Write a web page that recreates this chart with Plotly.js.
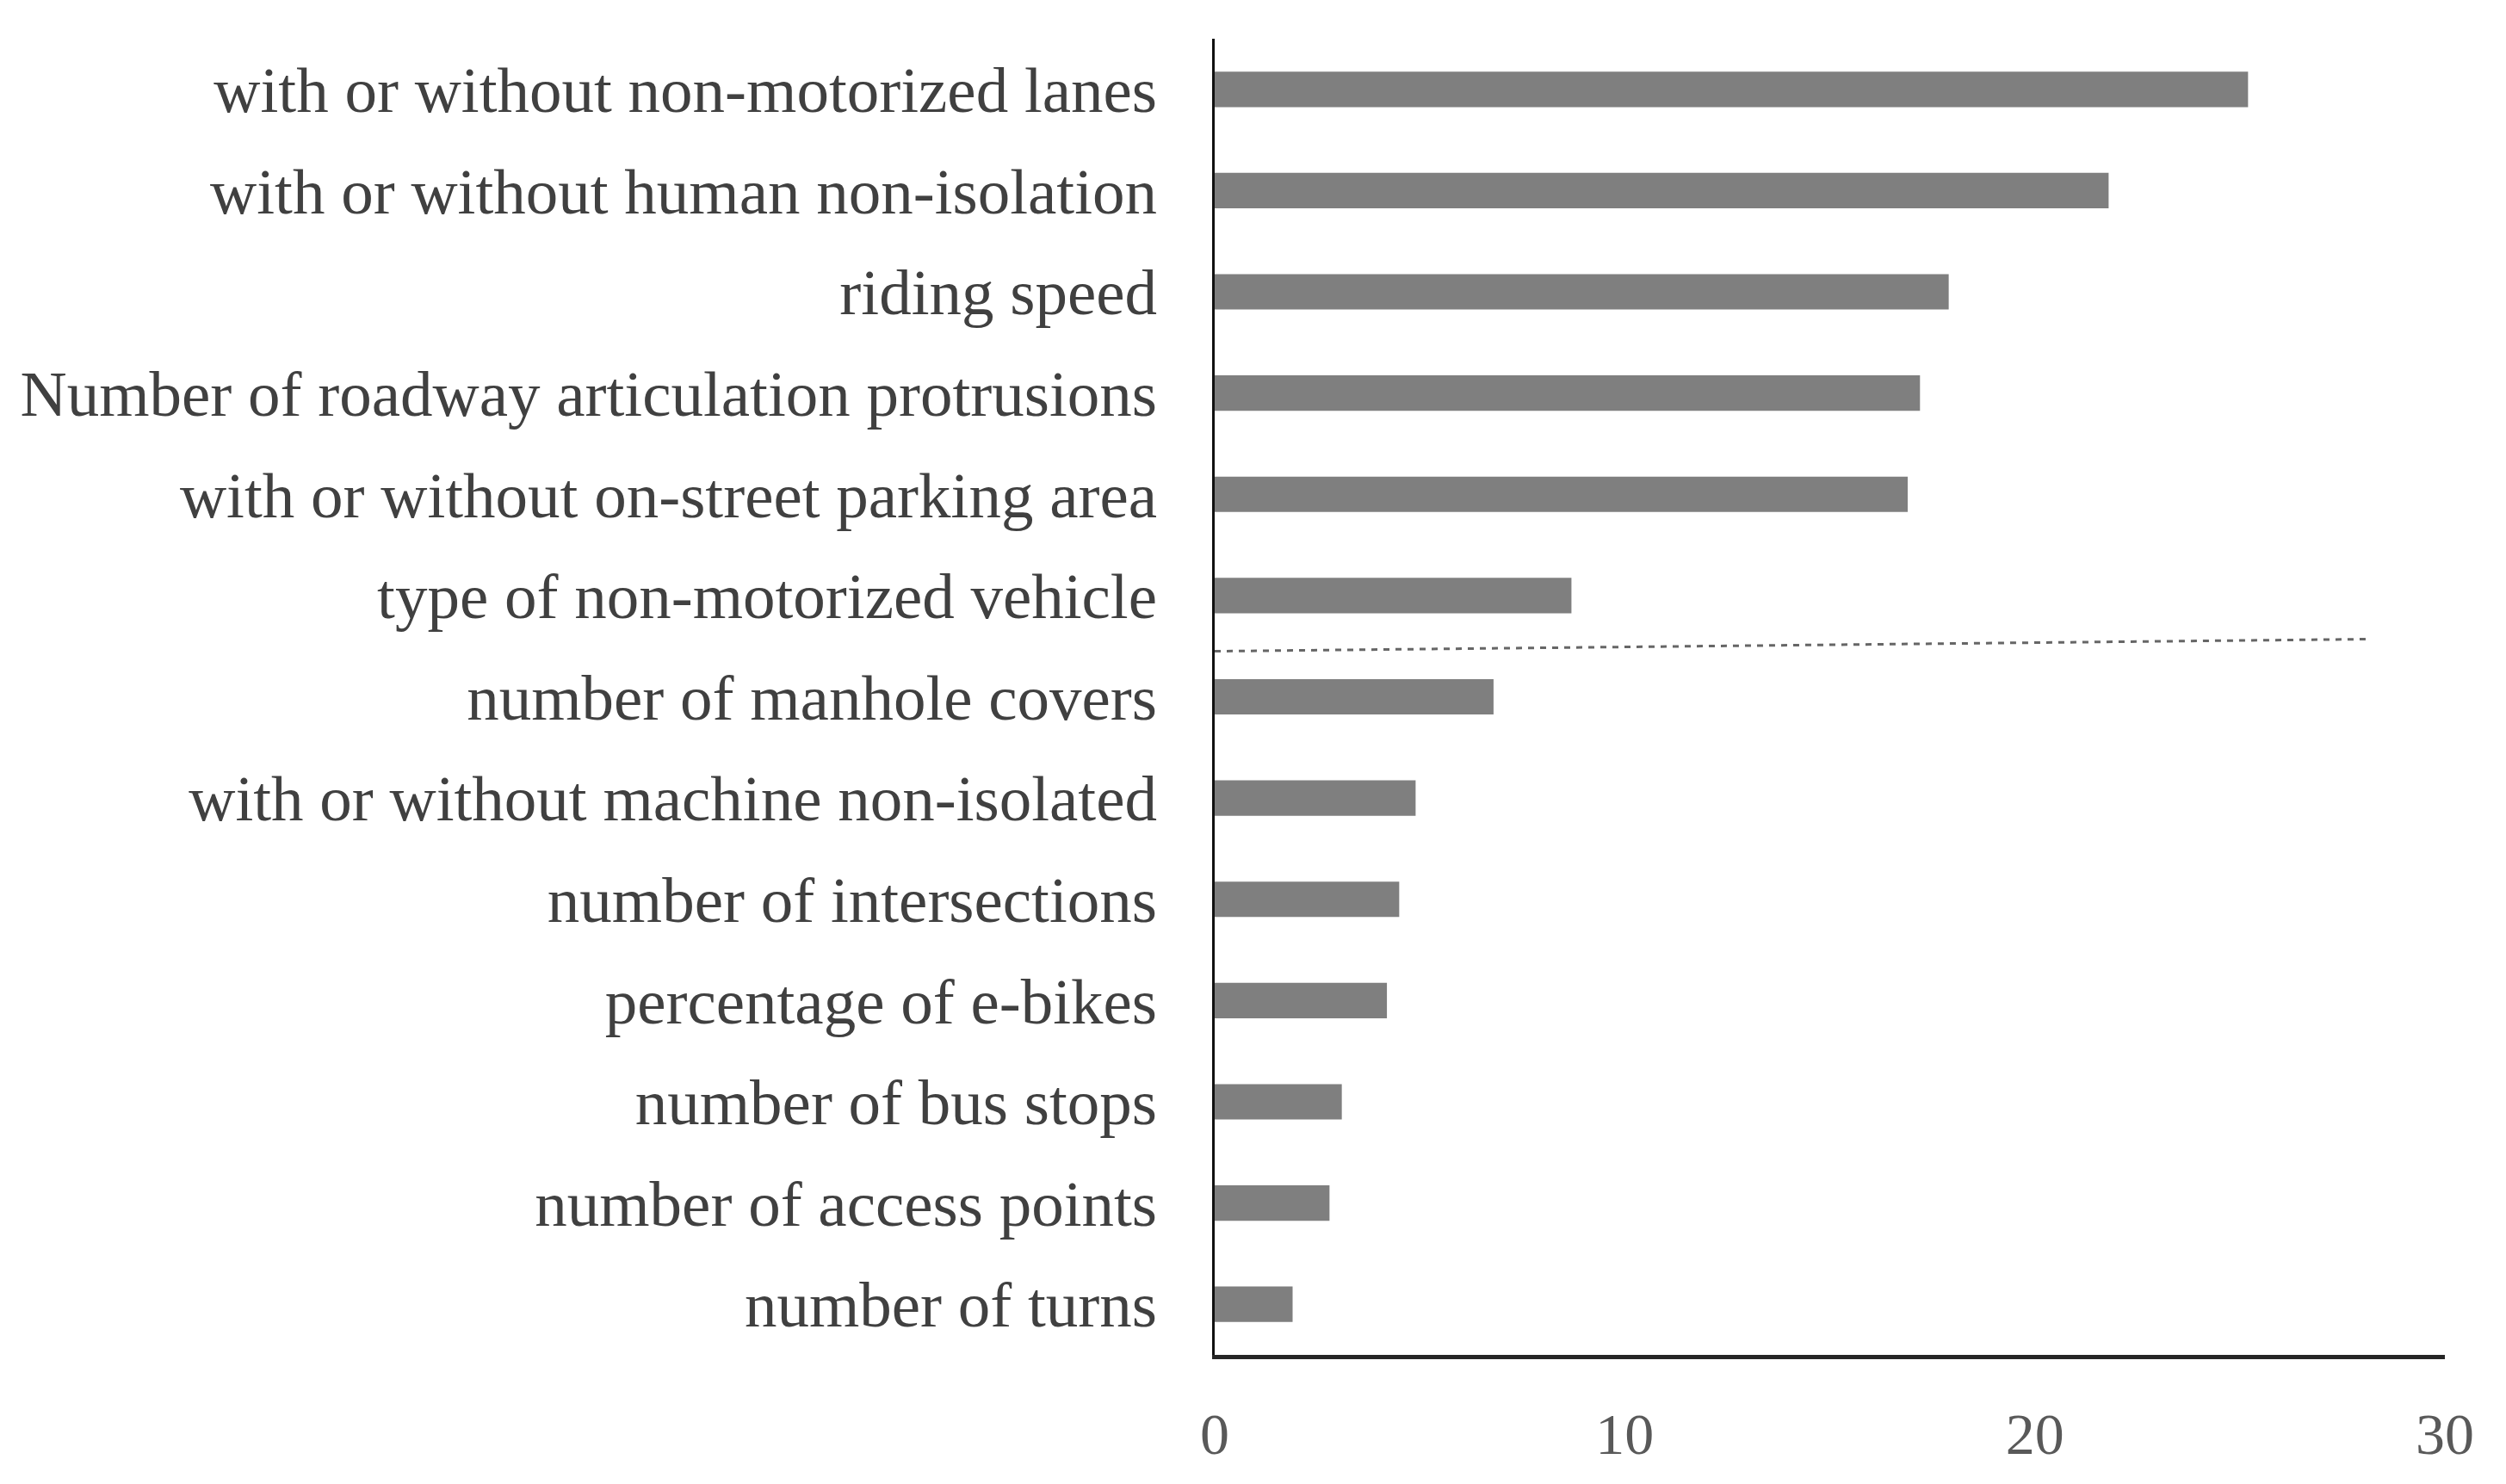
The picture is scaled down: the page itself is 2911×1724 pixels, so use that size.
<!DOCTYPE html>
<html>
<head>
<meta charset="utf-8">
<script src="https://cdn.plot.ly/plotly-3.0.1.min.js"></script>
<style>html,body{margin:0;padding:0;background:#fff;}#chart{width:2911px;height:1724px;}</style>
</head>
<body>
<div id="chart"></div>
<script>
const categories = [
  "with or without non-motorized lanes",
  "with or without human non-isolation",
  "riding speed",
  "Number of roadway articulation protrusions",
  "with or without on-street parking area",
  "type of non-motorized vehicle",
  "number of manhole covers",
  "with or without machine non-isolated",
  "number of intersections",
  "percentage of e-bikes",
  "number of bus stops",
  "number of access points",
  "number of turns"
];
const values = [25.2, 21.8, 17.9, 17.2, 16.9, 8.7, 6.8, 4.9, 4.5, 4.2, 3.1, 2.8, 1.9];
const xTicks = [0, 10, 20, 30];
// dotted separator: x from 0 to ~28.2, between 6th and 7th category (slightly sloped)
const cutX = [0, 28.2];
const cutY = [5.55, 5.43];

const trace = {
  type: 'bar',
  orientation: 'h',
  y: categories,
  x: values,
  width: 0.35,
  marker: {color: '#7f7f7f'},
  hoverinfo: 'x+y'
};

const serif = '"Liberation Serif", "Times New Roman", serif';
const layout = {
  width: 2911, height: 1724,
  paper_bgcolor: '#ffffff', plot_bgcolor: '#ffffff',
  margin: {l: 1411, r: 71, t: 45, b: 150, pad: 0},
  showlegend: false,
  font: {family: serif, size: 75, color: '#404040'},
  xaxis: {
    range: [0, 30], tickvals: xTicks, ticktext: xTicks.map(String),
    showgrid: false, zeroline: false,
    showline: true, linecolor: '#262626', linewidth: 5,
    ticks: 'outside', ticklen: 28, tickcolor: 'rgba(0,0,0,0)',
    tickfont: {family: serif, size: 68, color: '#595959'}
  },
  yaxis: {
    type: 'category', autorange: 'reversed',
    showgrid: false, zeroline: false,
    showline: true, linecolor: '#111111', linewidth: 3,
    ticks: 'outside', ticklen: 49, tickcolor: 'rgba(0,0,0,0)',
    tickfont: {family: serif, size: 75, color: '#404040'}
  },
  shapes: [{
    type: 'line', xref: 'x', yref: 'y',
    x0: cutX[0], x1: cutX[1], y0: cutY[0], y1: cutY[1],
    line: {color: '#666666', width: 3, dash: '7px,7px'}
  }]
};

Plotly.newPlot('chart', [trace], layout, {displayModeBar: false, staticPlot: true});
</script>
</body>
</html>
